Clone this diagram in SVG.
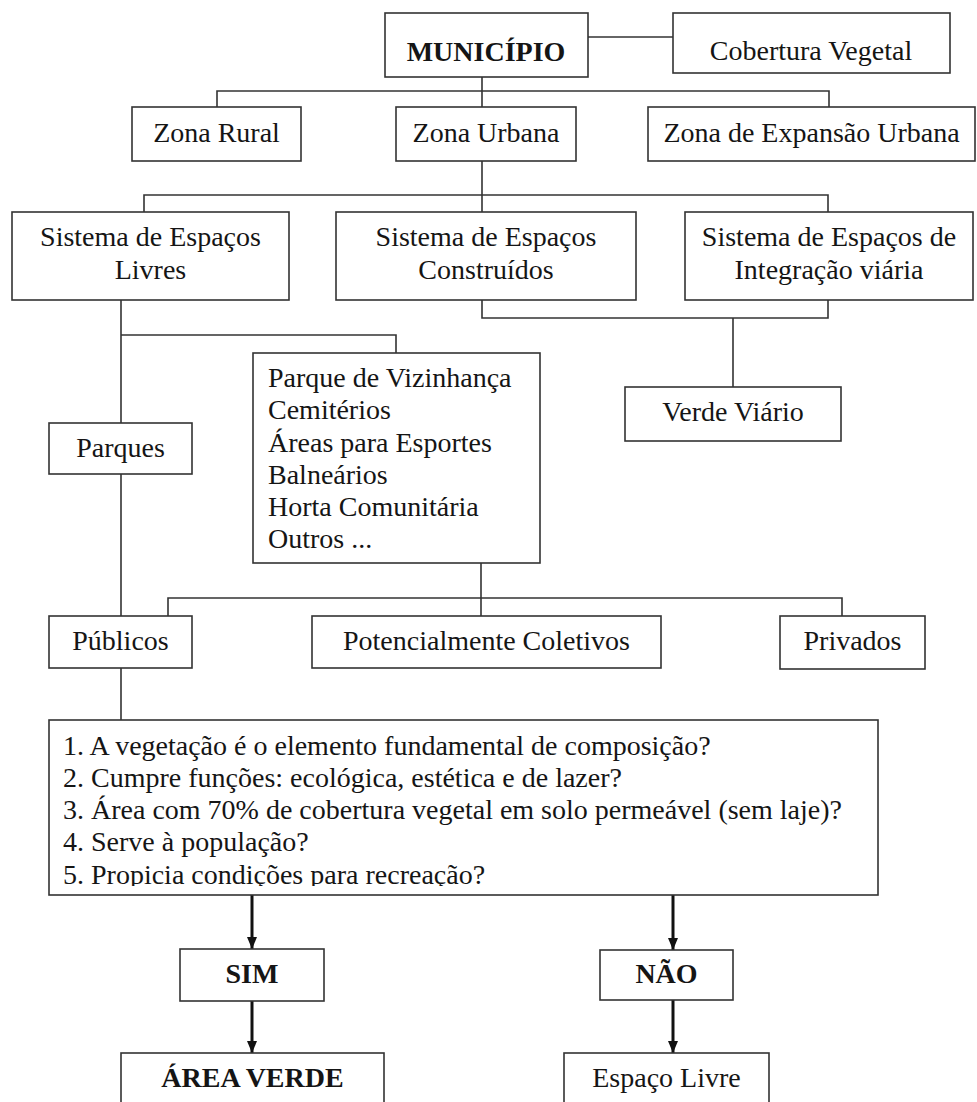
<svg xmlns="http://www.w3.org/2000/svg" width="977" height="1102" viewBox="0 0 977 1102">
<style>
.box{fill:#fff;stroke:#333;stroke-width:1.6}
.t{font-family:"Liberation Serif","Times New Roman",serif;font-size:28px;fill:#151515}
.c{text-anchor:middle}
.b{font-weight:bold}
.con{fill:none;stroke:#333;stroke-width:1.6}
.arr{fill:none;stroke:#111;stroke-width:3}
</style>
<defs>
<marker id="ah" viewBox="0 0 12 10" refX="12" refY="5" markerWidth="12" markerHeight="10" markerUnits="userSpaceOnUse" orient="auto">
<path d="M0,0 L12,5 L0,10 z" fill="#111"/>
</marker>
<clipPath id="qclip"><rect x="49" y="720" width="829" height="166"/></clipPath>
</defs>
<rect width="977" height="1102" fill="#fff"/>
<g id="connectors">
<path class="con" d="M588,37 H673"/>
<path class="con" d="M482,77 V107"/>
<path class="con" d="M217,107 V91 H829 V107"/>
<path class="con" d="M482,161 V212"/>
<path class="con" d="M144,212 V195 H828 V212"/>
<path class="con" d="M121,300 V423"/>
<path class="con" d="M121,335 H396 V353"/>
<path class="con" d="M482,300 V318 H828 V300"/>
<path class="con" d="M733,318 V387"/>
<path class="con" d="M121,474 V616"/>
<path class="con" d="M481,563 V616"/>
<path class="con" d="M168,616 V598 H842 V616"/>
<path class="con" d="M121,668 V720"/>
<path class="arr" d="M252,895 V949" marker-end="url(#ah)"/>
<path class="arr" d="M252,1001 V1053" marker-end="url(#ah)"/>
<path class="arr" d="M673,894 V950" marker-end="url(#ah)"/>
<path class="arr" d="M673,1000 V1053" marker-end="url(#ah)"/>
</g>
<g id="municipio"><rect class="box" x="385" y="13" width="203" height="64"/><text class="t c b" x="486" y="61">MUNICÍPIO</text></g>
<g id="cobertura"><rect class="box" x="673" y="13" width="277" height="60"/><text class="t c" x="811" y="60">Cobertura Vegetal</text></g>
<g id="zona-rural"><rect class="box" x="132" y="107" width="169" height="54"/><text class="t c" x="216.5" y="142">Zona Rural</text></g>
<g id="zona-urbana"><rect class="box" x="396" y="107" width="180" height="54"/><text class="t c" x="486" y="142">Zona Urbana</text></g>
<g id="zona-expansao"><rect class="box" x="648" y="107" width="327" height="54"/><text class="t c" x="811.5" y="142">Zona de Expansão Urbana</text></g>
<g id="sist-livres"><rect class="box" x="12" y="212" width="277" height="88"/><text class="t c" x="150.5" y="246">Sistema de Espaços</text><text class="t c" x="150.5" y="279">Livres</text></g>
<g id="sist-construidos"><rect class="box" x="336" y="212" width="300" height="88"/><text class="t c" x="486" y="246">Sistema de Espaços</text><text class="t c" x="486" y="279">Construídos</text></g>
<g id="sist-integracao"><rect class="box" x="685" y="212" width="288" height="88"/><text class="t c" x="829" y="246">Sistema de Espaços de</text><text class="t c" x="829" y="279">Integração viária</text></g>
<g id="verde-viario"><rect class="box" x="625" y="387" width="216" height="54"/><text class="t c" x="733" y="421">Verde Viário</text></g>
<g id="parques"><rect class="box" x="49" y="423" width="143" height="51"/><text class="t c" x="120.5" y="457">Parques</text></g>
<g id="lista"><rect class="box" x="253" y="353" width="287" height="210"/>
<text class="t" x="268" y="387">Parque de Vizinhança</text>
<text class="t" x="268" y="419">Cemitérios</text>
<text class="t" x="268" y="452">Áreas para Esportes</text>
<text class="t" x="268" y="484">Balneários</text>
<text class="t" x="268" y="516">Horta Comunitária</text>
<text class="t" x="268" y="548">Outros ...</text></g>
<g id="publicos"><rect class="box" x="49" y="616" width="143" height="52"/><text class="t c" x="120.5" y="650">Públicos</text></g>
<g id="potencialmente"><rect class="box" x="312" y="616" width="349" height="52"/><text class="t c" x="486.5" y="650">Potencialmente Coletivos</text></g>
<g id="privados"><rect class="box" x="780" y="616" width="145" height="53"/><text class="t c" x="852.5" y="650">Privados</text></g>
<g id="questoes"><rect class="box" x="49" y="720" width="829" height="175"/>
<g clip-path="url(#qclip)">
<text class="t" x="63" y="755">1. A vegetação é o elemento fundamental de composição?</text>
<text class="t" x="63" y="787">2. Cumpre funções: ecológica, estética e de lazer?</text>
<text class="t" x="63" y="819">3. Área com 70% de cobertura vegetal em solo permeável (sem laje)?</text>
<text class="t" x="63" y="851">4. Serve à população?</text>
<text class="t" x="63" y="884">5. Propicia condições para recreação?</text>
</g></g>
<g id="sim"><rect class="box" x="180" y="949" width="144" height="52"/><text class="t c b" x="252" y="983">SIM</text></g>
<g id="nao"><rect class="box" x="600" y="950" width="133" height="50"/><text class="t c b" x="666.5" y="983">NÃO</text></g>
<g id="area-verde"><rect class="box" x="121" y="1053" width="263" height="60"/><text class="t c b" x="252.5" y="1087">ÁREA VERDE</text></g>
<g id="espaco-livre"><rect class="box" x="564" y="1053" width="205" height="60"/><text class="t c" x="666.5" y="1087">Espaço Livre</text></g>
</svg>
